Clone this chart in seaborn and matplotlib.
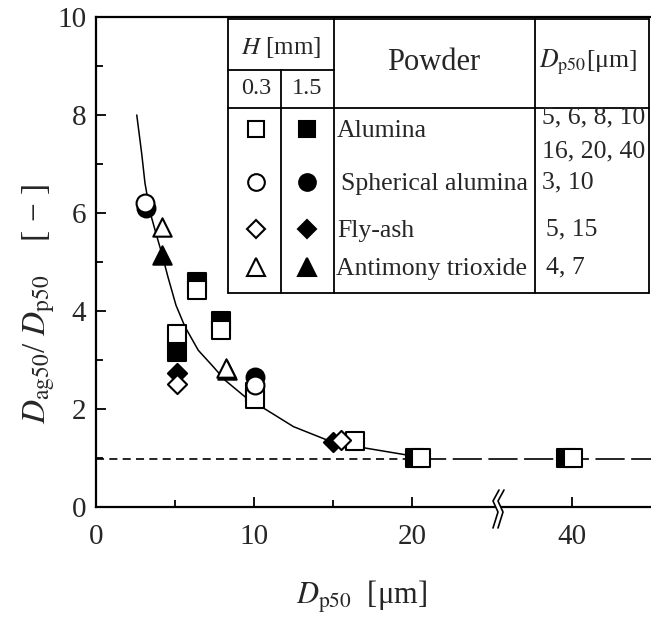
"""Agglomerate size ratio vs primary particle size, with broken x axis and legend table."""

import matplotlib
matplotlib.use("Agg")
import matplotlib.pyplot as plt
from matplotlib.lines import Line2D
from matplotlib.patches import Polygon
import seaborn as sns
import pandas as pd

# Data

ALUMINA_OPEN_X = [5.1, 6.4, 7.9, 10.05, 16.4, 20.55, 40.3]
ALUMINA_OPEN_Y = [3.54, 4.42, 3.62, 2.20, 1.35, 1.01, 1.01]
ALUMINA_FILLED_X = [5.1, 6.4, 7.9, 10.05, 20.2, 39.0]
ALUMINA_FILLED_Y = [3.17, 4.60, 3.80, 2.35, 1.01, 1.01]

SPHERICAL_OPEN_X = [3.1, 10.05]
SPHERICAL_OPEN_Y = [6.20, 2.49]
SPHERICAL_FILLED_X = [3.15, 10.05]
SPHERICAL_FILLED_Y = [6.10, 2.66]

FLYASH_OPEN_X = [5.1, 15.5]
FLYASH_OPEN_Y = [2.52, 1.37]
FLYASH_FILLED_X = [5.1, 15.0]
FLYASH_FILLED_Y = [2.74, 1.33]

ANTIMONY_OPEN_X = [4.2, 8.2]
ANTIMONY_OPEN_Y = [5.71, 2.83]
ANTIMONY_FILLED_X = [4.2, 8.3]
ANTIMONY_FILLED_Y = [5.14, 2.80]

# hand drawn trend curve, read point by point
FIT_X = [2.58, 2.89, 3.10, 3.42, 3.80, 4.16, 4.55, 5.06, 5.63, 6.47, 7.43, 8.16,
         9.54, 10.8, 12.5, 14.6, 17.1, 19.7, 20.3]
FIT_Y = [8.0, 7.22, 6.61, 6.02, 5.58, 5.18, 4.70, 4.12, 3.68, 3.20, 2.86, 2.59,
         2.22, 1.98, 1.64, 1.37, 1.20, 1.06, 1.02]

REF_LEVEL = 0.97

X_TICKS = [0, 10, 20, 40]
X_MINOR = [5, 15]
Y_TICKS = [0, 2, 4, 6, 8, 10]
Y_MINOR = [1, 3, 5, 7, 9]

H_VALUES = ["0.3", "1.5"]
POWDERS = ["Alumina", "Spherical alumina", "Fly-ash", "Antimony trioxide"]
POWDER_SIZES = [["5, 6, 8, 10", "16, 20, 40"], ["3, 10"], ["5, 15"], ["4, 7"]]
POWDER_MARKERS = ["s", "o", "D", "^"]

# Layout / style

FIG_W, FIG_H = 651, 617
BREAK_AT = 25
COMPRESS = 0.34
X_MAX = 35.13

sns.set_theme(style="white")
plt.rcParams["font.family"] = ["Liberation Serif", "DejaVu Serif"]
plt.rcParams["mathtext.fontset"] = "stix"
plt.rcParams["lines.scale_dashes"] = False


def px(x, y):
    """Pixel position (from top-left) to figure fraction."""
    return x / FIG_W, 1 - y / FIG_H


def broken_x(values):
    """Compress everything past the axis break."""
    return [v if v <= BREAK_AT else BREAK_AT + (v - BREAK_AT) * COMPRESS for v in values]


fig = plt.figure(figsize=(FIG_W / 100, FIG_H / 100), dpi=100)
ax = fig.add_axes([96 / FIG_W, 110 / FIG_H, 555 / FIG_W, 490 / FIG_H])

# reference level: short dashes up to 20, long dashes after
ax.plot([0, 20], [REF_LEVEL, REF_LEVEL], color="black", lw=1.2,
        dashes=(5.8, 3.8), zorder=1)
ax.plot([20.3, X_MAX], [REF_LEVEL, REF_LEVEL], color="black", lw=1.2,
        dashes=(21, 4.7), zorder=1)

fit = pd.DataFrame({"x": FIT_X, "y": FIT_Y})
sns.lineplot(data=fit, x="x", y="y", sort=False, estimator=None, color="black",
             lw=1.1, ax=ax, zorder=2)

series = [
    # (x, y, marker, size, filled)
    (ALUMINA_FILLED_X, ALUMINA_FILLED_Y, "s", 165, True),
    (FLYASH_FILLED_X, FLYASH_FILLED_Y, "D", 95, True),
    (ANTIMONY_FILLED_X, ANTIMONY_FILLED_Y, "^", 175, True),
    (SPHERICAL_FILLED_X, SPHERICAL_FILLED_Y, "o", 165, True),
    (ALUMINA_OPEN_X, ALUMINA_OPEN_Y, "s", 165, False),
    (FLYASH_OPEN_X, FLYASH_OPEN_Y, "D", 95, False),
    (ANTIMONY_OPEN_X, ANTIMONY_OPEN_Y, "^", 175, False),
    (SPHERICAL_OPEN_X, SPHERICAL_OPEN_Y, "o", 165, False),
]
for i, (xs, ys, marker, size, filled) in enumerate(series):
    sns.scatterplot(x=broken_x(xs), y=ys, marker=marker, s=size,
                    color="black" if filled else "white", edgecolor="black",
                    linewidth=1.5, ax=ax, zorder=3 + i * 0.1)

ax.set_xlim(0, X_MAX)
ax.set_ylim(0, 10)
ax.set_xticks(broken_x(X_TICKS))
ax.set_xticklabels([str(t) for t in X_TICKS])
ax.set_xticks(broken_x(X_MINOR), minor=True)
ax.set_yticks(Y_TICKS)
ax.set_yticks(Y_MINOR, minor=True)
ax.tick_params(which="both", direction="in", color="black", labelsize=21,
               top=False, right=False, bottom=True, left=True)
ax.tick_params(which="major", length=7.5, width=1.3)
ax.tick_params(which="minor", length=5, width=1.3)
ax.tick_params(axis="x", which="major", pad=12)
ax.tick_params(axis="y", which="major", pad=7)
for side in ["left", "bottom", "top"]:
    ax.spines[side].set_color("black")
    ax.spines[side].set_linewidth(1.6)
ax.spines["right"].set_visible(False)

ax.set_xlabel(r"$D_{\mathrm{p50}}$  [μm]", fontsize=22)
ax.xaxis.label.set_va("center")
ax.xaxis.set_label_coords(0.478, -0.184)
ax.set_ylabel(r"$D_{\mathrm{ag50}}$/ $D_{\mathrm{p50}}$    [ − ]", fontsize=24)
ax.yaxis.label.set_va("center")
ax.yaxis.set_label_coords(-0.104, 0.415)

# axis break glyph on the bottom spine
cx, sy = 495, 507
stroke = [(4, -17), (-2, -6), (3, 5), (-2, 21)]
left_stroke = [px(cx + dx, sy + dy) for dx, dy in stroke]
right_stroke = [px(cx + dx + 5, sy + dy) for dx, dy in stroke]
fig.add_artist(Polygon(left_stroke + right_stroke[::-1], closed=True,
                       facecolor="white", edgecolor="none", zorder=5))
for pts in (left_stroke, right_stroke):
    fig.add_artist(Line2D([p[0] for p in pts], [p[1] for p in pts],
                          color="black", lw=1.2, zorder=6))

# legend table
TABLE_LEFT, TABLE_RIGHT = 228, 649
COL_H_SPLIT, COL_POWDER, COL_SIZE = 281, 334, 535
ROW_TOP, ROW_H, ROW_HEADER, ROW_BOTTOM = 19, 70, 108, 293
ROW_Y = [129, 182, 229, 267]
TABLE_LW = 1.3


def table_line(x0, y0, x1, y1):
    (a, b), (c, d) = px(x0, y0), px(x1, y1)
    fig.add_artist(Line2D([a, c], [b, d], color="black", lw=TABLE_LW, zorder=6))


fig.add_artist(Polygon([px(TABLE_LEFT, ROW_TOP), px(TABLE_RIGHT, ROW_TOP),
                        px(TABLE_RIGHT, ROW_BOTTOM), px(TABLE_LEFT, ROW_BOTTOM)],
                       closed=True, facecolor="white", edgecolor="none", zorder=5))
for y in (ROW_TOP, ROW_HEADER, ROW_BOTTOM):
    table_line(TABLE_LEFT, y, TABLE_RIGHT, y)
table_line(TABLE_LEFT, ROW_H, COL_POWDER, ROW_H)
for x in (TABLE_LEFT, COL_POWDER, COL_SIZE, TABLE_RIGHT):
    table_line(x, ROW_TOP, x, ROW_BOTTOM)
table_line(COL_H_SPLIT, ROW_H, COL_H_SPLIT, ROW_BOTTOM)

fig.text(*px(281, 47), r"$H$ [mm]", fontsize=18, ha="center", va="center", zorder=7)
fig.text(*px(256, 89), H_VALUES[0], fontsize=17.5, ha="center", va="center", zorder=7)
fig.text(*px(307, 89), H_VALUES[1], fontsize=17.5, ha="center", va="center", zorder=7)
fig.text(*px(434, 63), "Powder", fontsize=22, ha="center", va="center", zorder=7)
fig.text(*px(539, 62), r"$D_{\mathrm{p50}}$[μm]", fontsize=18.5, ha="left",
         va="center", zorder=7)

name_x = [337, 341, 337, 336]
size_x = [542, 542, 546, 546]
for row, (name, sizes, marker) in enumerate(zip(POWDERS, POWDER_SIZES, POWDER_MARKERS)):
    y = ROW_Y[row]
    ms = {"s": 11.5, "o": 12, "D": 9, "^": 12.5}[marker]
    for col_x, face in ((256, "white"), (307, "black")):
        fx, fy = px(col_x, y)
        fig.add_artist(Line2D([fx], [fy], marker=marker, markersize=ms,
                              markerfacecolor=face, markeredgecolor="black",
                              markeredgewidth=1.5, zorder=7))
    fig.text(*px(name_x[row], y + 2), name, fontsize=18.5, ha="left",
             va="center", zorder=7)
    if len(sizes) == 2:
        fig.text(*px(size_x[row], 117), sizes[0], fontsize=18.5, ha="left",
                 va="center", zorder=7)
        fig.text(*px(size_x[row], 151), sizes[1], fontsize=18.5, ha="left",
                 va="center", zorder=7)
    else:
        fig.text(*px(size_x[row], y), sizes[0], fontsize=18.5, ha="left",
                 va="center", zorder=7)

fig.savefig("out.png", dpi=100)
